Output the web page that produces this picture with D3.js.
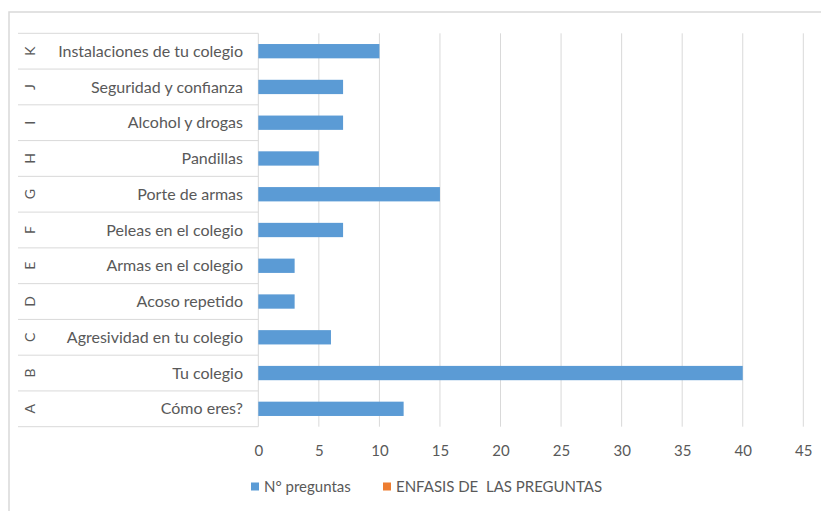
<!DOCTYPE html>
<html>
<head>
<meta charset="utf-8">
<script src="https://cdn.jsdelivr.net/npm/d3@7"></script>
<style>
  html, body { margin: 0; padding: 0; background: #fff; }
  svg { display: block; }
  text { font-family: Lato, "Open Sans", sans-serif; fill: #595959; }
</style>
</head>
<body>
<svg id="chart" width="821" height="511"></svg>
<script>
// Topics of the questionnaire, listed from A (bottom) to K (top)
const letters = ["A", "B", "C", "D", "E", "F", "G", "H", "I", "J", "K"];
const topics = [
  "Cómo eres?",
  "Tu colegio",
  "Agresividad en tu colegio",
  "Acoso repetido",
  "Armas en el colegio",
  "Peleas en el colegio",
  "Porte de armas",
  "Pandillas",
  "Alcohol y drogas",
  "Seguridad y confianza",
  "Instalaciones de tu colegio"
];
// Number of questions per topic
const numPreguntas = [12, 40, 6, 3, 3, 7, 15, 5, 7, 7, 10];
// Second series has no values plotted, only its legend entry
const seriesNames = ["N° preguntas", "ENFASIS DE  LAS PREGUNTAS"];
const seriesColors = ["#5B9BD5", "#ED7D31"];
const xTicks = [0, 5, 10, 15, 20, 25, 30, 35, 40, 45];

const svg = d3.select("#chart");

// Chart frame
svg.append("rect")
  .attr("x", 9).attr("y", 12)
  .attr("width", 830).attr("height", 520)
  .attr("fill", "#fff")
  .attr("stroke", "#d9d9d9")
  .attr("stroke-width", 1.5);

const plot = { left: 258.3, right: 803.3, top: 33.3, bottom: 426.7 };
const catLeft = 18;

const x = d3.scaleLinear().domain([0, 45]).range([plot.left, plot.right]);
// Top row is K, bottom row is A
const y = d3.scaleBand()
  .domain(letters.slice().reverse())
  .range([plot.top, plot.bottom])
  .paddingInner(0).paddingOuter(0);

// Vertical gridlines
svg.append("g")
  .selectAll("line")
  .data(xTicks.slice(1))
  .join("line")
  .attr("x1", d => x(d)).attr("x2", d => x(d))
  .attr("y1", plot.top).attr("y2", plot.bottom)
  .attr("stroke", "#d9d9d9").attr("stroke-width", 1);

// Category axis: separators between rows and the axis line
const bounds = letters.map(l => y(l)).concat([plot.bottom]);
svg.append("g")
  .selectAll("line")
  .data(bounds)
  .join("line")
  .attr("x1", catLeft).attr("x2", plot.left)
  .attr("y1", d => d).attr("y2", d => d)
  .attr("stroke", "#d9d9d9").attr("stroke-width", 1);

svg.append("line")
  .attr("x1", plot.left).attr("x2", plot.left)
  .attr("y1", plot.top).attr("y2", plot.bottom)
  .attr("stroke", "#d9d9d9").attr("stroke-width", 1);

// Bars
const barH = y.bandwidth() * 0.4;
svg.append("g")
  .selectAll("rect")
  .data(letters.map((l, i) => ({ l, v: numPreguntas[i] })))
  .join("rect")
  .attr("x", x(0))
  .attr("y", d => y(d.l) + (y.bandwidth() - barH) / 2)
  .attr("width", d => x(d.v) - x(0))
  .attr("height", barH)
  .attr("fill", seriesColors[0]);

// Topic labels (inner level)
svg.append("g")
  .selectAll("text")
  .data(topics)
  .join("text")
  .attr("x", 243)
  .attr("y", (d, i) => y(letters[i]) + y.bandwidth() / 2)
  .attr("dy", "0.35em")
  .attr("text-anchor", "end")
  .style("font-size", "16px")
  .text(d => d);

// Letter labels (outer level), rotated
svg.append("g")
  .selectAll("text")
  .data(letters)
  .join("text")
  .attr("transform", d => `translate(30,${y(d) + y.bandwidth() / 2}) rotate(-90)`)
  .attr("dy", "0.35em")
  .attr("text-anchor", "middle")
  .style("font-size", "14px")
  .text(d => d);

// Value axis labels
const xAxis = d3.axisBottom(x).tickValues(xTicks).tickSize(0).tickPadding(0);
const ax = svg.append("g")
  .attr("transform", `translate(0,${plot.bottom})`)
  .call(xAxis);
ax.select(".domain").remove();
ax.selectAll("text")
  .attr("y", 24)
  .attr("dy", "0.35em")
  .style("font-size", "15px")
  .style("font-family", "Lato, sans-serif")
  .attr("fill", "#595959");

// Legend
const legend = svg.append("g").attr("transform", "translate(251,487)");
const legendX = [0, 132];
seriesNames.forEach((name, i) => {
  const g = legend.append("g").attr("transform", `translate(${legendX[i]},0)`);
  g.append("rect").attr("x", 0).attr("y", -4.5).attr("width", 8).attr("height", 8)
    .attr("fill", seriesColors[i]);
  g.append("text").attr("x", 13).attr("y", 0).attr("dy", "0.35em")
    .style("font-size", "15px")
    .style("white-space", "pre")
    .attr("xml:space", "preserve")
    .text(name);
});
</script>
</body>
</html>
